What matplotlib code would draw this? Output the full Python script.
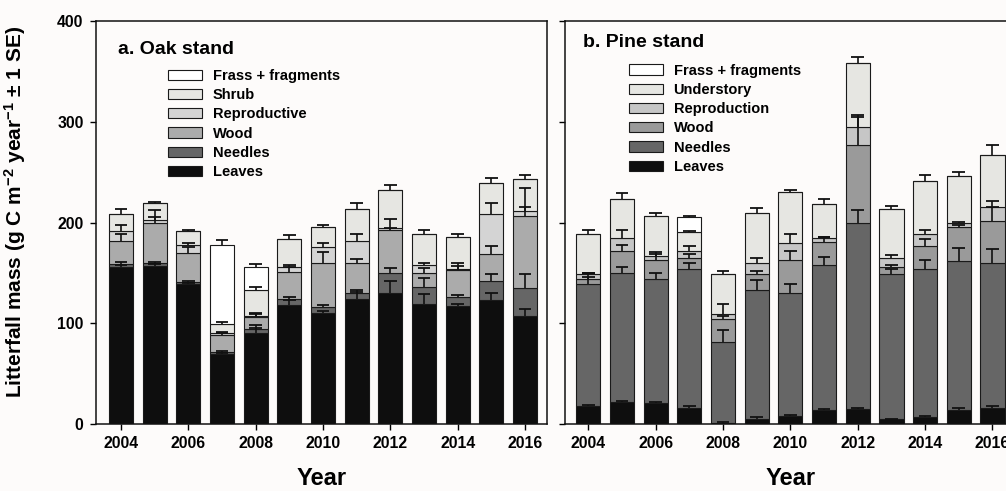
import numpy as np
import matplotlib
matplotlib.use("Agg")
import matplotlib.pyplot as plt

plt.rcParams['font.family'] = ['Liberation Sans', 'DejaVu Sans']
plt.rcParams['font.weight'] = 'bold'
plt.rcParams['mathtext.fontset'] = 'custom'
plt.rcParams['mathtext.bf'] = 'Liberation Sans:bold'
plt.rcParams['mathtext.rm'] = 'Liberation Sans:bold'
plt.rcParams['mathtext.default'] = 'bf'

years = list(range(2004, 2017))

# ---- Oak stand litterfall components (g C m-2 yr-1) ----
oak_labels = ["Leaves", "Needles", "Wood", "Reproductive", "Shrub", "Frass + fragments"]
oak_leaves = [156, 157, 139, 69.2, 90.1, 118.2, 110.6, 123.9, 129.8, 119.2, 117.6, 123.2, 107.3]
oak_needles = [3.0, 2.6, 2.3, 2.0, 3.9, 5.7, 6.0, 5.9, 19.9, 17.2, 8.9, 19.2, 27.5]
oak_wood = [23.0, 40.4, 28.8, 17.2, 12.6, 27.4, 43.0, 29.8, 43.0, 13.3, 26.5, 26.5, 71.9]
oak_repro = [10.0, 2.7, 7.6, 1.7, 0.5, 4.4, 15.9, 22.5, 1.7, 8.3, 0.7, 39.7, 5.3]
oak_shrub = [16.5, 16.5, 14.0, 9.2, 26.0, 28.4, 20.5, 31.8, 38.1, 30.8, 32.4, 31.2, 31.1]
oak_frass = [0, 0, 0, 78.5, 23.2, 0, 0, 0, 0, 0, 0, 0, 0]

oak_leaves_se = [1.5, 1.5, 1.5, 1.5, 5.6, 5.0, 2.0, 7.6, 12.6, 10.0, 2.0, 7.3, 7.3]
oak_needles_se = [1.5, 1.0, 1.0, 1.0, 4.3, 2.7, 1.7, 3.3, 5.0, 8.3, 2.0, 6.7, 14.0]
oak_wood_se = [6.6, 5.3, 5.3, 1.7, 3.0, 4.5, 11.3, 4.7, 2.0, 5.6, 7.0, 8.3, 9.3]
oak_repro_se = [5.7, 10.0, 2.3, 1.0, 3.0, 2.3, 4.0, 6.7, 9.0, 2.3, 3.0, 10.7, 22.0]
oak_shrub_se = [5.3, 1.0, 1.0, 1.7, 3.3, 3.7, 1.3, 5.3, 5.0, 4.0, 2.7, 4.3, 4.3]
oak_frass_se = [0, 0, 0, 5.0, 2.7, 0, 0, 0, 0, 0, 0, 0, 0]

# ---- Pine stand litterfall components (g C m-2 yr-1) ----
pine_labels = ["Leaves", "Needles", "Wood", "Reproduction", "Understory", "Frass + fragments"]
pine_leaves = [17.9, 21.5, 20.5, 16.2, 1.3, 4.6, 8.3, 13.9, 14.6, 4.6, 7.3, 13.9, 16.2]
pine_needles = [120.9, 128.2, 123.2, 137.5, 80.5, 128.5, 121.5, 144.4, 185.4, 144.4, 146.7, 148.0, 143.4]
pine_wood = [5.3, 22.5, 19.2, 11.5, 22.2, 15.6, 33.1, 22.5, 76.9, 6.9, 22.9, 33.5, 42.4]
pine_repro = [4.9, 12.9, 4.0, 7.0, 5.3, 11.6, 17.3, 3.7, 18.5, 8.9, 11.5, 4.6, 13.3]
pine_under = [39.8, 38.4, 39.8, 18.2, 39.4, 49.0, 50.3, 34.1, 62.9, 48.7, 53.0, 46.4, 52.0]
pine_frass = [0, 0, 0, 15.6, 0, 0, 0, 0, 0, 0, 0, 0, 0]

pine_leaves_se = [0.5, 1.0, 1.5, 1.5, 0.3, 2.0, 0.5, 1.0, 1.7, 0.5, 0.5, 1.7, 2.0]
pine_needles_se = [7.6, 6.6, 6.0, 6.0, 11.6, 10.0, 9.3, 7.3, 12.7, 5.0, 9.3, 12.6, 14.0]
pine_wood_se = [5.6, 5.6, 6.0, 3.7, 3.3, 3.3, 9.3, 5.0, 28.0, 2.3, 6.6, 2.3, 13.2]
pine_repro_se = [0.7, 7.6, 3.7, 4.6, 10.0, 4.3, 8.6, 1.5, 12.0, 3.3, 4.3, 1.0, 6.0]
pine_under_se = [4.0, 5.6, 3.3, 1.3, 3.3, 5.6, 1.7, 5.0, 6.0, 2.7, 5.6, 4.0, 10.0]
pine_frass_se = [0, 0, 0, 0.7, 0, 0, 0, 0, 0, 0, 0, 0, 0]

oak_colors = ["#0e0e0e", "#666666", "#ababab", "#d4d4d4", "#e6e6e2", "#ffffff"]
pine_colors = ["#0e0e0e", "#666666", "#9a9a9a", "#c6c6c6", "#e6e6e2", "#ffffff"]

BG = "#fdfbfa"
BAR_W = 0.72
CAP = 0.19


def stacked(ax, comps, ses, colors, labels):
    x = np.array(years, dtype=float)
    bottom = np.zeros(len(x))
    handles = []
    tops = []
    for vals, col, lab in zip(comps, colors, labels):
        v = np.array(vals, dtype=float)
        b = ax.bar(x, v, BAR_W, bottom=bottom, color=col, edgecolor="#1a1a1a",
                   linewidth=0.8, zorder=2, label=lab)
        handles.append(b)
        bottom = bottom + v
        tops.append(bottom.copy())
    # one-sided (upward) error bars at the top of each component
    for top, se, v in zip(tops, ses, comps):
        se = np.array(se, dtype=float)
        m = (se > 0) & (np.array(v) > 0)
        ax.vlines(x[m], top[m], top[m] + se[m], colors="#111111", lw=1.2, zorder=4)
        ax.hlines(top[m] + se[m], x[m] - CAP, x[m] + CAP, colors="#111111", lw=1.3, zorder=4)
    return handles


fig = plt.figure(figsize=(10.06, 4.91), dpi=100, facecolor=BG)
ax1 = fig.add_axes([96 / 1006, 67 / 491, 450.7 / 1006, 402.6 / 491], facecolor=BG)
ax2 = fig.add_axes([565 / 1006, 67 / 491, 451 / 1006, 402.6 / 491], facecolor=BG)

h1 = stacked(ax1,
             [oak_leaves, oak_needles, oak_wood, oak_repro, oak_shrub, oak_frass],
             [oak_leaves_se, oak_needles_se, oak_wood_se, oak_repro_se, oak_shrub_se, oak_frass_se],
             oak_colors, oak_labels)
h2 = stacked(ax2,
             [pine_leaves, pine_needles, pine_wood, pine_repro, pine_under, pine_frass],
             [pine_leaves_se, pine_needles_se, pine_wood_se, pine_repro_se, pine_under_se, pine_frass_se],
             pine_colors, pine_labels)

ax1.set_xlim(2003.258, 2016.643)
ax2.set_xlim(2003.308, 2016.70)
for ax in (ax1, ax2):
    ax.set_ylim(0, 400)
    ax.set_yticks([0, 100, 200, 300, 400])
    ax.set_xticks(range(2004, 2017, 2))
    ax.tick_params(direction="out", length=4, width=1.0, labelsize=11.3, pad=5)
    for s in ax.spines.values():
        s.set_linewidth(1.1)
        s.set_color("#111111")
    for lab in ax.get_xticklabels() + ax.get_yticklabels():
        lab.set_fontweight("bold")
    ax.set_xlabel("Year", fontsize=17, fontweight="bold", labelpad=11)

ax2.tick_params(axis="y", labelleft=False)
ax1.set_ylabel("Litterfall mass (g C m$^{-2}$ year$^{-1}$ \u00b1 1 SE)",
               fontsize=15, fontweight="bold")
ax1.yaxis.set_label_coords(-0.150, 0.527)

ax1.text(0.049, 0.931, "a. Oak stand", transform=ax1.transAxes, fontsize=14,
         fontweight="bold", va="center", ha="left")
ax2.text(0.040, 0.947, "b. Pine stand", transform=ax2.transAxes, fontsize=14,
         fontweight="bold", va="center", ha="left")

leg_kw = dict(frameon=False, loc="upper left", borderpad=0, borderaxespad=0,
              handlelength=2.35, handleheight=0.7, handletextpad=0.7,
              labelspacing=0.36, prop={"weight": "bold", "size": 10.5})
ax1.legend(h1[::-1], oak_labels[::-1], bbox_to_anchor=(0.16, 0.882), **leg_kw)
ax2.legend(h2[::-1], pine_labels[::-1], bbox_to_anchor=(0.142, 0.895), **leg_kw)

fig.savefig("out.png", dpi=100, facecolor=BG)
